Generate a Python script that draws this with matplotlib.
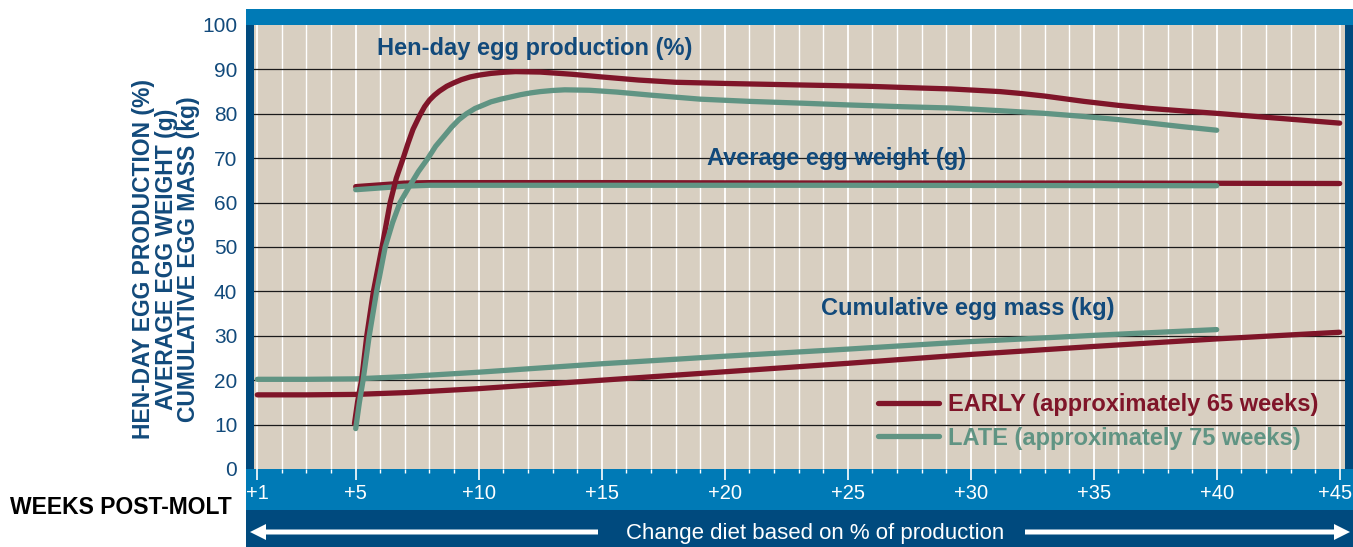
import numpy as np
import matplotlib; matplotlib.use("Agg")
import matplotlib.pyplot as plt
import matplotlib.transforms as mtransforms
from matplotlib import font_manager
from matplotlib.patches import Rectangle, FancyArrow
from matplotlib.lines import Line2D

# ---- data ----
early_hd_wk = [4.95, 5.1, 5.24, 5.45, 5.72, 6.07, 6.4, 6.65, 6.93, 7.13, 7.33, 7.6, 7.8, 8.0, 8.2,
               8.4, 8.7, 9.0, 9.3, 9.65, 10.0, 10.5, 11.0, 11.5, 12.5, 13.8, 15.0, 16.5, 18.0,
               20.3, 23.0, 25.8, 28.0, 29.2, 30.2, 31.2, 32.0, 33.0, 33.8, 34.6, 36.0, 37.3,
               38.5, 40.0, 42.5, 45.0]
early_hd = [10.2, 16.0, 20.0, 30.0, 40.0, 50.0, 60.0, 65.5, 70.0, 73.4, 76.5, 79.6, 81.6, 83.1, 84.2,
            85.1, 86.2, 87.0, 87.7, 88.3, 88.7, 89.1, 89.35, 89.5, 89.4, 88.9, 88.3, 87.6, 87.1,
            86.8, 86.5, 86.2, 85.8, 85.6, 85.3, 85.0, 84.6, 84.0, 83.4, 82.8, 81.9, 81.2,
            80.7, 80.1, 79.0, 77.9]
late_hd_wk = [5.0, 5.15, 5.3, 5.55, 5.85, 6.2, 6.5, 6.8, 7.2, 7.55, 7.94, 8.25, 8.6, 8.9, 9.2,
              9.5, 9.85, 10.2, 10.5, 10.9, 11.3, 11.7, 12.1, 12.5, 13.0, 13.5, 14.5, 15.6, 17.0,
              19.0, 21.0, 23.1, 25.0, 27.2, 29.2, 31.2, 33.0, 34.6, 36.0, 37.3, 38.6, 40.0]
late_hd = [9.1, 15.0, 20.0, 30.0, 40.0, 50.0, 55.5, 60.0, 63.8, 67.0, 70.0, 72.7, 75.0, 77.0, 78.7,
           80.0, 81.2, 82.0, 82.7, 83.3, 83.8, 84.3, 84.7, 85.0, 85.25, 85.4, 85.3, 84.9, 84.2,
           83.3, 82.8, 82.4, 82.0, 81.6, 81.3, 80.7, 80.1, 79.4, 78.7, 77.9, 77.1, 76.3]

early_ew_wk = [5, 6, 7, 8, 15, 25, 35, 45]
early_ew = [63.6, 64.0, 64.4, 64.5, 64.5, 64.4, 64.4, 64.3]
late_ew_wk = [5, 6, 7, 8, 15, 25, 40]
late_ew = [62.9, 63.3, 63.7, 63.9, 63.9, 63.9, 63.8]

early_cm_wk = [1, 3, 5, 7, 10, 15, 20, 25, 30, 35, 40, 45]
early_cm = [16.7, 16.7, 16.8, 17.2, 18.1, 20.0, 21.9, 23.8, 25.8, 27.6, 29.3, 30.8]
late_cm_wk = [1, 3, 5, 7, 10, 15, 20, 25, 30, 35, 40]
late_cm = [20.2, 20.2, 20.3, 20.8, 21.8, 23.7, 25.4, 27.0, 28.7, 30.1, 31.4]

series_labels = ["EARLY (approximately 65 weeks)", "LATE (approximately 75 weeks)"]
week_major = [1, 5, 10, 15, 20, 25, 30, 35, 40, 45]
week_labels = ["+%d" % w for w in week_major]
y_ticks = list(range(0, 101, 10))

RED = "#7f1529"
GREEN = "#609483"
NAVY = "#124a7b"
BLUE = "#007ab6"
DARK = "#004a7e"
BG = "#d8cfc1"

try:
    font_manager.findfont("Liberation Sans Narrow", fallback_to_default=False)
    NARROW = True
except Exception:
    NARROW = False
plt.rcParams["font.family"] = ["Liberation Sans", "DejaVu Sans"]

W, H = 1353, 547
fig = plt.figure(figsize=(W / 100, H / 100), dpi=100)
fig.patch.set_facecolor("white")

def px(x0, y0, x1, y1):
    # pixel box -> figure fraction rect
    return (x0 / W, 1 - y1 / H, (x1 - x0) / W, (y1 - y0) / H)

ax = fig.add_axes(px(254, 25, 1345, 469))
ax.set_facecolor(BG)
for s in ax.spines.values():
    s.set_visible(False)

# bands
for (x0, y0, x1, y1, c) in [(246, 9, 1353, 25, BLUE), (246, 469, 1353, 510, BLUE),
                            (246, 510, 1353, 547, DARK), (246, 25, 254, 469, DARK),
                            (1345, 25, 1353, 469, DARK)]:
    l, b, w, h = px(x0, y0, x1, y1)
    fig.add_artist(Rectangle((l, b), w, h, transform=fig.transFigure, color=c, lw=0, zorder=0))

ax.set_xlim(0.866, 45.215)
ax.set_ylim(0, 99.55)

# grid
for w in range(1, 46):
    ax.axvline(w, color="white", lw=1.3 if w in week_major else 1.0, zorder=1)
for v in range(10, 100, 10):
    ax.axhline(v, color="#1a1a1a", lw=0.9, zorder=2)

kw = dict(lw=3.8, solid_capstyle="round", solid_joinstyle="round", zorder=4)
ax.plot(early_cm_wk, early_cm, color=RED, **kw)
ax.plot(late_cm_wk, late_cm, color=GREEN, **kw)
ax.plot(early_ew_wk, early_ew, color=RED, **kw)
ax.plot(late_ew_wk, late_ew, color=GREEN, **kw)
ax.plot(early_hd_wk, early_hd, color=RED, **kw)
ax.plot(late_hd_wk, late_hd, color=GREEN, **kw)

# ticks
ax.set_xticks(week_major)
ax.set_xticklabels(week_labels)
ax.set_xticks(range(1, 46), minor=True)
ax.tick_params(axis="x", which="major", direction="out", length=8, width=1.2, color="white",
               labelcolor="white", labelsize=14.5, pad=3)
ax.tick_params(axis="x", which="minor", direction="out", length=3, width=1.0, color="white")
ax.set_yticks(y_ticks)
ax.tick_params(axis="y", length=0, labelcolor=NAVY, labelsize=15, pad=12)
# keep the last week label inside the figure
last = ax.get_xticklabels()[-1]
last.set_transform(last.get_transform() + mtransforms.ScaledTranslation(-0.05, 0, fig.dpi_scale_trans))

tfont = dict(fontsize=17, fontweight="bold", color=NAVY, va="center", ha="left", zorder=5)
ax.text(5.87, 94.6, "Hen-day egg production (%)", **tfont)
ax.text(19.27, 70.0, "Average egg weight (g)", **tfont)
ax.text(23.9, 36.1, "Cumulative egg mass (kg)", **tfont)

handles = [Line2D([], [], color=RED, lw=3.8, solid_capstyle="round"),
           Line2D([], [], color=GREEN, lw=3.8, solid_capstyle="round")]
leg = ax.legend(handles, series_labels, loc="upper left", bbox_to_anchor=(878 / W, 1 - 393 / H),
                bbox_transform=fig.transFigure, frameon=False, borderpad=0, borderaxespad=0,
                handlelength=2.6, handletextpad=0.35, labelspacing=0.45,
                prop=dict(size=17, weight="bold"))
for t, c in zip(leg.get_texts(), [RED, GREEN]):
    t.set_color(c)

ylab = "HEN-DAY EGG PRODUCTION (%)\nAVERAGE EGG WEIGHT (g)\nCUMULATIVE EGG MASS (kg)"
if NARROW:
    fig.text(166 / W, 1 - 259 / H, ylab, rotation=90, ha="center", va="center",
             multialignment="center", fontsize=20, fontweight="bold", color=NAVY,
             family=["Liberation Sans Narrow", "Liberation Sans"], linespacing=0.8)
else:
    fig.text(166 / W, 1 - 259 / H, ylab, rotation=90, ha="center", va="center",
             multialignment="center", fontsize=16.5, fontweight="bold", color=NAVY,
             linespacing=0.95)

fig.text(10 / W, 1 - 507 / H, "WEEKS POST-MOLT", fontsize=16.5, fontweight="bold",
         color="black", ha="left", va="center")
fig.text(815 / W, 1 - 533 / H, "Change diet based on % of production", fontsize=16,
         color="white", ha="center", va="center")

ay = 1 - 532 / H
sw = 5 / H
fig.add_artist(FancyArrow(598 / W, ay, -(598 - 250) / W, 0, width=sw, head_width=16 / H,
                          head_length=16 / W, length_includes_head=True, color="white",
                          transform=fig.transFigure, lw=0))
fig.add_artist(FancyArrow(1025 / W, ay, (1350 - 1025) / W, 0, width=sw, head_width=16 / H,
                          head_length=16 / W, length_includes_head=True, color="white",
                          transform=fig.transFigure, lw=0))

fig.savefig("out.png", dpi=100, facecolor="white")
